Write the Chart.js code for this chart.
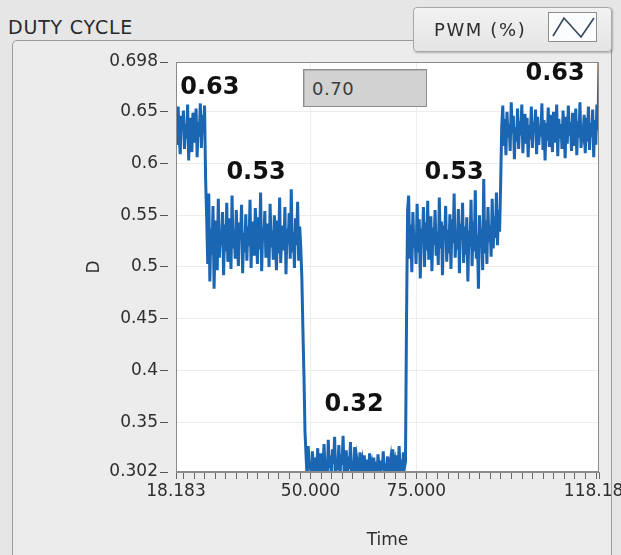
<!DOCTYPE html>
<html>
<head>
<meta charset="utf-8">
<title>Duty cycle</title>
<script src="https://cdn.jsdelivr.net/npm/chart.js@4.4.1/dist/chart.umd.min.js"></script>
<style>
  html, body { margin: 0; padding: 0; }
  body {
    width: 621px; height: 555px; overflow: hidden; position: relative;
    background: #e6e6e6;
    font-family: "DejaVu Sans", sans-serif; color: #333;
  }
  #graphName {
    position: absolute; left: 8px; top: 16px;
    font-size: 19px; letter-spacing: 0.8px; color: #2a2a2a;
  }
  #frame {
    position: absolute; left: 12px; top: 40px; width: 600px; height: 530px;
    background: #ececec; border: 1px solid #9c9c9c; border-radius: 5px;
    box-sizing: border-box;
  }
  #dutyChart { position: absolute; left: 0; top: 0; }
  #plotLegend {
    position: absolute; left: 413px; top: 7px; width: 199px; height: 45px;
    box-sizing: border-box; border: 1px solid #a8a8a8; border-radius: 4px;
    background: linear-gradient(#f2f2f2, #e4e4e4);
    box-shadow: 1px 1px 2px rgba(0,0,0,0.25);
  }
  #plotLegend span {
    position: absolute; left: 20px; top: 11px;
    font-size: 18px; letter-spacing: 1.6px; color: #2e2e2e;
  }
  #plotLegend svg { position: absolute; left: 134px; top: 4px; }
  #readout {
    position: absolute; left: 303px; top: 69px; width: 124px; height: 38px;
    box-sizing: border-box; border: 1px solid #8c8c8c;
    background: #d2d2d2; box-shadow: inset 1px 1px 0 #b5b5b5;
    font-size: 18px; letter-spacing: 0.5px; color: #3c3c3c; padding: 8px 0 0 8px;
  }
</style>
</head>
<body>
<div id="graphName">DUTY CYCLE</div>
<div id="frame"></div>
<canvas id="dutyChart" width="621" height="555"></canvas>
<div id="plotLegend">
  <span>PWM (%)</span>
  <svg width="49" height="30" viewBox="0 0 49 30">
    <rect x="0.5" y="0.5" width="48" height="29" fill="#fbfcfd" stroke="#8f8f8f"/>
    <polyline points="5,24 16,6 33,25 46,6" fill="none" stroke="#34465a" stroke-width="1.6"/>
  </svg>
</div>
<div id="readout">0.70</div>

<script>
// waveform: start time and sample spacing
const t0 = 18.183;
const dt = 0.25;

// duty cycle samples D, one step after another
const stepHigh1 = [
    0.641, 0.618, 0.655, 0.627, 0.609, 0.646, 0.632, 0.651, 0.614, 0.638,
    0.624, 0.657, 0.603, 0.644, 0.629, 0.611, 0.649, 0.635, 0.620, 0.653,
    0.606, 0.640, 0.626, 0.658, 0.615, 0.647, 0.631, 0.656,
    0.585
];
const stepMid1 = [
    0.548, 0.503, 0.571, 0.486, 0.537, 0.512, 0.559, 0.479, 0.528, 0.545,
    0.497, 0.566, 0.509, 0.534, 0.521, 0.553, 0.492, 0.541, 0.515, 0.562,
    0.505, 0.530, 0.547, 0.498, 0.569, 0.518, 0.536, 0.508, 0.555, 0.524,
    0.501, 0.543, 0.527, 0.560, 0.494, 0.533, 0.514, 0.551, 0.506, 0.539,
    0.520, 0.565, 0.499, 0.544, 0.529, 0.511, 0.557, 0.535, 0.503, 0.548,
    0.517, 0.572, 0.496, 0.538, 0.525, 0.554, 0.509, 0.532, 0.542, 0.500,
    0.561, 0.519, 0.535, 0.507, 0.550, 0.526, 0.497, 0.545, 0.513, 0.567,
    0.504, 0.531, 0.540, 0.516, 0.558, 0.493, 0.537, 0.522, 0.552, 0.508,
    0.575, 0.514, 0.534, 0.499, 0.547, 0.521, 0.563, 0.506, 0.539, 0.518,
    0.490, 0.440, 0.395, 0.340
];
const stepLow = [
    0.318, 0.296, 0.327, 0.305, 0.312, 0.293, 0.322, 0.308, 0.299, 0.316,
    0.303, 0.325, 0.297, 0.311, 0.320, 0.294, 0.307, 0.329, 0.301, 0.314,
    0.296, 0.333, 0.306, 0.318, 0.292, 0.324, 0.310, 0.336, 0.298, 0.315,
    0.304, 0.328, 0.295, 0.319, 0.309, 0.337, 0.300, 0.313, 0.323, 0.297,
    0.317, 0.305, 0.331, 0.294, 0.312, 0.302, 0.326, 0.299, 0.315, 0.308,
    0.293, 0.321, 0.304, 0.311, 0.296, 0.318, 0.307, 0.300, 0.314, 0.295,
    0.320, 0.303, 0.309, 0.297, 0.316, 0.301, 0.312, 0.294, 0.319, 0.306,
    0.298, 0.313, 0.304, 0.322, 0.296, 0.310, 0.302, 0.317, 0.293, 0.308,
    0.315, 0.299, 0.324, 0.305, 0.311, 0.297, 0.318, 0.303, 0.327, 0.300,
    0.314, 0.296, 0.321, 0.306, 0.312,
    0.450, 0.555
];
const stepMid2 = [
    0.569, 0.508, 0.541, 0.495, 0.553, 0.519, 0.532, 0.503, 0.561, 0.514,
    0.546, 0.489, 0.537, 0.525, 0.558, 0.500, 0.543, 0.516, 0.564, 0.507,
    0.530, 0.549, 0.496, 0.538, 0.521, 0.555, 0.511, 0.534, 0.502, 0.567,
    0.518, 0.544, 0.492, 0.540, 0.527, 0.559, 0.505, 0.536, 0.513, 0.551,
    0.498, 0.546, 0.523, 0.571, 0.509, 0.533, 0.517, 0.556, 0.494, 0.542,
    0.526, 0.562, 0.504, 0.539, 0.512, 0.548, 0.486, 0.535, 0.520, 0.565,
    0.501, 0.544, 0.515, 0.574, 0.508, 0.531, 0.479, 0.550, 0.522, 0.537,
    0.497, 0.585, 0.513, 0.545, 0.503, 0.558, 0.524, 0.540, 0.510, 0.566,
    0.518, 0.549, 0.528, 0.572, 0.521, 0.555, 0.534,
    0.580, 0.635
];
const stepHigh2 = [
    0.656, 0.617, 0.643, 0.608, 0.650, 0.625, 0.638, 0.612, 0.659, 0.629,
    0.646, 0.604, 0.635, 0.621, 0.653, 0.614, 0.641, 0.627, 0.657, 0.610,
    0.633, 0.648, 0.619, 0.644, 0.606, 0.637, 0.623, 0.655, 0.615, 0.640,
    0.630, 0.652, 0.609, 0.645, 0.618, 0.636, 0.626, 0.658, 0.613, 0.642,
    0.603, 0.639, 0.622, 0.654, 0.616, 0.647, 0.628, 0.611, 0.650, 0.634,
    0.620, 0.657, 0.607, 0.643, 0.624, 0.638, 0.614, 0.651, 0.631, 0.605,
    0.645, 0.619, 0.656, 0.627, 0.640, 0.612, 0.649, 0.633, 0.617, 0.653,
    0.608, 0.641, 0.625, 0.659, 0.615, 0.636, 0.629, 0.647, 0.610, 0.644,
    0.621, 0.655, 0.613, 0.639, 0.626, 0.652, 0.606, 0.642, 0.618, 0.657,
    0.632, 0.700
];

// step levels written on the graph
const levels = ['0.63', '0.53', '0.32', '0.53', '0.63'];

// axis ticks
const yTicks = [0.302, 0.35, 0.4, 0.45, 0.5, 0.55, 0.6, 0.65, 0.698];
const xLabelled = [18.183, 50, 75, 118.183];

const xMin = 18.183, xMax = 118.183;
let xTicks = [xMin];
for (let v = 20; v < xMax; v += 2.5) xTicks.push(v);
xTicks.push(xMax);

const duty = [].concat(stepHigh1, stepMid1, stepLow, stepMid2, stepHigh2);
const points = duty.map((d, i) => ({x: t0 + i * dt, y: d}));

// where each level text sits, in axis units
const levelSpots = [[26.2, 0.673], [37.1, 0.591], [60.3, 0.367], [83.9, 0.591], [107.8, 0.687]];

const plotFrame = {
    id: 'plotFrame',
    beforeDraw(chart) {
        const a = chart.chartArea, ctx = chart.ctx;
        ctx.save();
        ctx.fillStyle = '#ffffff';
        ctx.fillRect(a.left, a.top, a.right - a.left, a.bottom - a.top);
        ctx.restore();
    },
    afterDatasetsDraw(chart) {
        const a = chart.chartArea, ctx = chart.ctx;
        const xs = chart.scales.x, ys = chart.scales.y;
        ctx.save();
        ctx.strokeStyle = '#8a8a8a';
        ctx.lineWidth = 1;
        ctx.strokeRect(a.left + 0.5, a.top + 0.5, a.right - a.left - 1, a.bottom - a.top - 1);
        ctx.fillStyle = '#111';
        ctx.font = 'bold 24px "DejaVu Sans"';
        ctx.textAlign = 'center';
        ctx.textBaseline = 'middle';
        levels.forEach((txt, i) => {
            ctx.fillText(txt, xs.getPixelForValue(levelSpots[i][0]), ys.getPixelForValue(levelSpots[i][1]));
        });
        ctx.restore();
    }
};

const tickFont = {family: 'DejaVu Sans', size: 17};

let dutyChart = new Chart(document.querySelector('#dutyChart'), {
    type: 'line',
    data: {
        datasets: [{
            label: 'PWM (%)',
            data: points,
            borderColor: '#1b66b2',
            borderWidth: 3,
            pointRadius: 0,
            tension: 0,
            fill: false,
            clip: 0
        }]
    },
    options: {
        animation: false,
        responsive: false,
        layout: {padding: {left: 0, top: 62, right: 22, bottom: 0}},
        plugins: {
            legend: {display: false},
            tooltip: {enabled: false}
        },
        scales: {
            x: {
                type: 'linear',
                min: xMin,
                max: xMax,
                afterBuildTicks: s => { s.ticks = xTicks.map(v => ({value: v})); },
                afterFit: s => { s.height = 83; s.paddingLeft = 0; s.paddingRight = 0; },
                ticks: {
                    autoSkip: false,
                    maxRotation: 0,
                    padding: 2,
                    color: '#2e2e2e',
                    font: tickFont,
                    callback: v => xLabelled.includes(v) ? v.toFixed(3) : ''
                },
                grid: {
                    color: ctx => (ctx.tick && xLabelled.includes(ctx.tick.value)) ? '#ececec' : 'rgba(0,0,0,0)',
                    tickColor: '#666',
                    tickLength: 7
                },
                border: {color: '#8a8a8a'},
                title: {
                    display: true,
                    text: 'Time',
                    color: '#2e2e2e',
                    font: {family: 'DejaVu Sans', size: 17},
                    padding: {top: 0, bottom: 4}
                }
            },
            y: {
                min: 0.302,
                max: 0.698,
                afterBuildTicks: s => { s.ticks = yTicks.map(v => ({value: v})); },
                afterFit: s => { s.width = 176; s.paddingTop = 0; s.paddingBottom = 0; },
                ticks: {
                    padding: 2,
                    color: '#2e2e2e',
                    font: tickFont,
                    callback: v => String(v)
                },
                grid: {
                    color: '#ededed',
                    tickColor: '#555',
                    tickLength: 16,
                    tickBorderDash: [8, 8]
                },
                border: {color: '#8a8a8a'},
                title: {
                    display: true,
                    text: 'D',
                    color: '#2e2e2e',
                    font: {family: 'DejaVu Sans', size: 17},
                    padding: {top: 84, bottom: 0}
                }
            }
        }
    },
    plugins: [plotFrame]
});
</script>
</body>
</html>
